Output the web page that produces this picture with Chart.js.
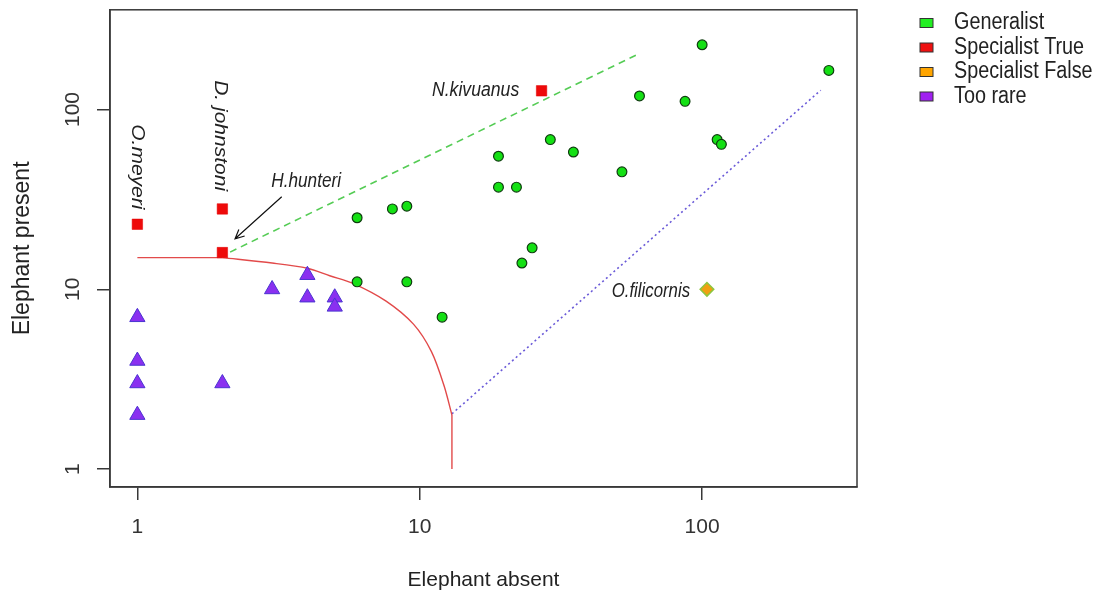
<!DOCTYPE html>
<html>
<head>
<meta charset="utf-8">
<script src="https://cdn.jsdelivr.net/npm/chart.js@4.4.1/dist/chart.umd.min.js"></script>
<style>
  html, body { margin: 0; padding: 0; background: #fff; }
  canvas { display: block; }
</style>
</head>
<body>
<canvas id="chart" width="1099" height="599" style="width:1099px;height:599px"></canvas>
<script>
// tick labels
const X_TICKS = [1, 10, 100];
const Y_TICKS = [1, 10, 100];

// species counts: elephant absent (x) / present (y)
const GEN_X = [6, 8, 9, 6, 9, 12, 19, 19, 22, 29, 35, 25, 23, 52, 60, 87, 100, 113, 117, 281];
const GEN_Y = [25, 28, 29, 11, 11, 7, 55, 37, 37, 68, 58, 17, 14, 45, 119, 111, 229, 68, 64, 165];
const SPT_X = [1, 2, 2, 27];
const SPT_Y = [23, 28, 16, 127];
const SPF_X = [104];
const SPF_Y = [10];
const RARE_X = [1, 1, 1, 1, 2, 3, 4, 4, 5, 5];
const RARE_Y = [7, 4, 3, 2, 3, 10, 12, 9, 9, 8];

// threshold lines: flat part, curved part, vertical drop
const FLAT_X = [1, 2];
const FLAT_Y = [15, 15];
const CURVE_X = [2, 3, 4, 4.8, 5.8, 7.6, 9.5, 11, 12.2, 13];
const CURVE_Y = [15, 14.0, 13.1, 11.9, 10.8, 8.6, 6.4, 4.5, 2.9, 2.0];
const DROP_X = [13, 13];
const DROP_Y = [2.0, 1];
const GEN_LINE_X = [2.13, 60];
const GEN_LINE_Y = [16.1, 205];
const RARE_LINE_X = [13, 263];
const RARE_LINE_Y = [2.03, 128];

const LEGEND_LABELS = ['Generalist', 'Specialist True', 'Specialist False', 'Too rare'];

const pts = (xs, ys) => xs.map((x, i) => ({ x: x, y: ys[i] }));

const AXIS = '#383838';
const TXT = '#222';
const SQ = 0.86; // text looks horizontally squeezed in the original
const FONT = '"Liberation Sans", Arial, sans-serif';

function txt(ctx, s, x, y, o) {
  ctx.save();
  ctx.translate(x, y);
  ctx.scale(o.sx || SQ, 1);
  if (o.rot) ctx.rotate(o.rot);
  ctx.font = (o.italic ? 'italic ' : '') + o.size + 'px ' + FONT;
  ctx.textAlign = o.align || 'center';
  ctx.textBaseline = 'middle';
  ctx.fillStyle = TXT;
  ctx.fillText(s, 0, 0);
  ctx.restore();
}

// labels placed in data units
const NOTES = [
  { t: 'O.meyeri', x: 1, y: 48, size: 21, rot: Math.PI / 2 },
  { t: 'D. johnstoni', x: 1.97, y: 71.6, size: 21, rot: Math.PI / 2 },
  { t: 'H.hunteri', x: 3.96, y: 39.6, size: 20 },
  { t: 'N.kivuanus', x: 22.5, y: 127.8, size: 20.5, align: 'right' },
  { t: 'O.filicornis', x: 90.6, y: 9.77, size: 19.5, align: 'right' }
];
const ARROW = { x0: 3.245, y0: 32.7, x1: 2.218, y1: 19.1 };

const extras = {
  id: 'extras',
  afterDraw(chart) {
    const ctx = chart.ctx;
    const a = chart.chartArea;
    const xs = chart.scales.x, ys = chart.scales.y;

    ctx.save();
    ctx.strokeStyle = AXIS;
    ctx.lineWidth = 1.5;
    ctx.strokeRect(a.left, a.top, a.right - a.left, a.bottom - a.top);
    ctx.restore();

    NOTES.forEach(n => {
      txt(ctx, n.t, xs.getPixelForValue(n.x), ys.getPixelForValue(n.y),
        { size: n.size, italic: true, rot: n.rot, align: n.align });
    });

    // arrow to H.hunteri
    const sx = xs.getPixelForValue(ARROW.x0), sy = ys.getPixelForValue(ARROW.y0);
    const ex = xs.getPixelForValue(ARROW.x1), ey = ys.getPixelForValue(ARROW.y1);
    const ang = Math.atan2(ey - sy, ex - sx);
    ctx.save();
    ctx.strokeStyle = '#111';
    ctx.lineWidth = 1.2;
    ctx.beginPath();
    ctx.moveTo(sx, sy);
    ctx.lineTo(ex, ey);
    ctx.moveTo(ex - 10 * Math.cos(ang - 0.45), ey - 10 * Math.sin(ang - 0.45));
    ctx.lineTo(ex, ey);
    ctx.lineTo(ex - 10 * Math.cos(ang + 0.45), ey - 10 * Math.sin(ang + 0.45));
    ctx.stroke();
    ctx.restore();

    // legend
    const fills = ['#22ee22', '#ee1111', '#ffa500', '#a020f0'];
    LEGEND_LABELS.forEach((lab, i) => {
      const cy = 23 + i * 24.5;
      ctx.save();
      ctx.fillStyle = fills[i];
      ctx.strokeStyle = '#333';
      ctx.lineWidth = 1;
      ctx.fillRect(920, cy - 4.5, 13, 9);
      ctx.strokeRect(920, cy - 4.5, 13, 9);
      ctx.restore();
      txt(ctx, lab, 954, cy, { size: 23, align: 'left' });
    });
  }
};

const fixScale = (w, h) => scale => {
  if (w) scale.width = w;
  if (h) scale.height = h;
  scale.paddingTop = 0; scale.paddingBottom = 0;
  scale.paddingLeft = 0; scale.paddingRight = 0;
};

const RED = '#e24a4a';
const redLine = (label, xs, ys, tension) => ({
  label: label, data: pts(xs, ys), showLine: true, pointRadius: 0,
  borderColor: RED, borderWidth: 1.4, tension: tension, order: 1
});

new Chart(document.getElementById('chart'), {
  type: 'scatter',
  data: {
    datasets: [
      { label: 'Generalist', data: pts(GEN_X, GEN_Y), pointStyle: 'circle', pointRadius: 4.9,
        backgroundColor: '#14e014', borderColor: '#0f3d0f', borderWidth: 1.2, order: 0 },
      { label: 'Specialist True', data: pts(SPT_X, SPT_Y), pointStyle: 'rect', pointRadius: 7.4,
        backgroundColor: '#ee0a0a', borderColor: '#e00000', borderWidth: 0.5, order: 0 },
      { label: 'Specialist False', data: pts(SPF_X, SPF_Y), pointStyle: 'rectRot', pointRadius: 6.8,
        backgroundColor: '#f0a010', borderColor: '#8cc63f', borderWidth: 1.5, order: 0 },
      { label: 'Too rare', data: pts(RARE_X, RARE_Y), pointStyle: 'triangle', pointRadius: 8.8,
        backgroundColor: '#8a30f0', borderColor: '#4a34d0', borderWidth: 1, order: 0 },
      redLine('limit flat', FLAT_X, FLAT_Y, 0),
      redLine('limit curve', CURVE_X, CURVE_Y, 0.3),
      redLine('limit drop', DROP_X, DROP_Y, 0),
      { label: 'generalist bound', data: pts(GEN_LINE_X, GEN_LINE_Y), showLine: true, pointRadius: 0,
        borderColor: '#55cc55', borderWidth: 1.6, borderDash: [7, 5], order: 1 },
      { label: 'rare bound', data: pts(RARE_LINE_X, RARE_LINE_Y), showLine: true, pointRadius: 0,
        borderColor: '#6a5ad8', borderWidth: 1.6, borderDash: [2, 3], order: 1 }
    ]
  },
  options: {
    responsive: false,
    animation: false,
    devicePixelRatio: 1,
    layout: { padding: { left: 0, top: 7, right: 242, bottom: 0 } },
    plugins: { legend: { display: false }, tooltip: { enabled: false } },
    scales: {
      x: {
        type: 'logarithmic', min: 0.8, max: 353.5, bounds: 'data',
        afterBuildTicks: s => { s.ticks = X_TICKS.map(v => ({ value: v })); },
        afterFit: fixScale(0, 112),
        ticks: { autoSkip: false, minRotation: 0, maxRotation: 0, padding: 15, color: '#333',
          font: { family: FONT, size: 21 }, callback: v => String(v) },
        grid: { drawOnChartArea: false, drawTicks: true, tickLength: 13, color: AXIS, lineWidth: 1.5 },
        border: { display: true, color: AXIS, width: 1.5 },
        title: { display: true, text: 'Elephant absent', color: TXT,
          font: { family: FONT, size: 21 }, padding: { top: 0, bottom: 6 } }
      },
      y: {
        type: 'logarithmic', min: 0.795, max: 358.6, bounds: 'data',
        afterBuildTicks: s => { s.ticks = Y_TICKS.map(v => ({ value: v })); },
        afterFit: fixScale(110, 0),
        ticks: { autoSkip: false, minRotation: 90, maxRotation: 90, crossAlign: 'center', padding: 6.5,
          color: '#333', font: { family: FONT, size: 21 }, callback: v => String(v) },
        grid: { drawOnChartArea: false, drawTicks: true, tickLength: 13, color: AXIS, lineWidth: 1.5 },
        border: { display: true, color: AXIS, width: 1.5 },
        title: { display: true, text: 'Elephant present', color: TXT,
          font: { family: FONT, size: 23 }, padding: { top: 9, bottom: 0 } }
      }
    }
  },
  plugins: [extras]
});
</script>
</body>
</html>
